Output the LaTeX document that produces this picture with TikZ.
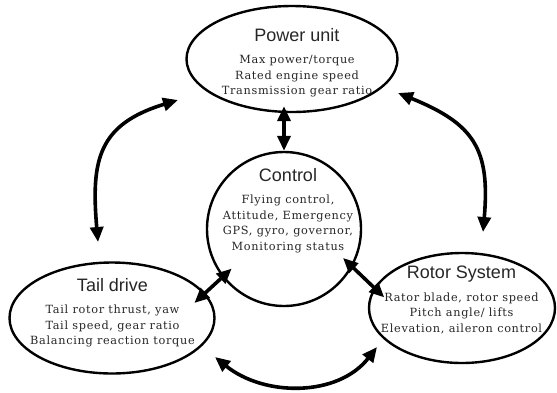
\documentclass[tikz,border=0pt]{standalone}
\usepackage{fontspec}
\setmainfont{DejaVu Serif}[LetterSpace=6]
\newfontfamily\headfont{Liberation Sans}
\usetikzlibrary{arrows.meta,shapes.geometric}
\newcommand{\unittitle}[1]{{\headfont\fontsize{18}{20}\selectfont #1}}

\begin{document}
\begin{tikzpicture} [
                x=1pt, y=1pt,
                unit/.style={ellipse,draw,line width=2.4pt,inner sep=0pt},
                hub/.style={circle,draw,line width=2.4pt,inner sep=0pt,minimum size=154pt},
                info/.style={align=center,anchor=north,inner sep=0pt,text=black!85,
                    font=\fontsize{11.3}{15.5}\selectfont},
                link edge/.style = {draw,line width=3.6pt,
                    {Triangle[length=15pt,width=13pt]}-{Triangle[length=15pt,width=13pt]}},
            ]
            \useasboundingbox (0,0) rectangle (557,-392);
            % blocks
            \node[unit,minimum width=211pt,minimum height=106pt] (power) at (292,-59) {};
            \node[hub] (control) at (284,-229) {};
            \node[unit,minimum width=205pt,minimum height=111pt] (tail) at (112,-318) {};
            \node[unit,minimum width=186pt,minimum height=110pt] (rotor) at (462,-308) {};
            % texts
            \node[info] (powertext) at (297,-28) {\unittitle{Power unit}\\[7pt]
                Max power/torque\\ Rated engine speed\\ Transmission gear ratio};
            \node[info] (controltext) at (288,-168) {\unittitle{Control}\\[7pt]
                Flying control,\\ Attitude, Emergency\\ GPS, gyro, governor,\\ Monitoring status};
            \node[info] (tailtext) at (112.5,-278) {\unittitle{Tail drive}\\[7pt]
                Tail rotor thrust, yaw\\ Tail speed, gear ratio\\ Balancing reaction torque};
            \node[info] (rotortext) at (461.5,-266) {\unittitle{Rotor System}\\[7pt]
                Rator blade, rotor speed\\ Pitch angle/ lifts\\ Elevation, aileron control};
            % arrows
            \coordinate (pl1) at (178,-100);
            \coordinate (pl2) at (98,-242);
            \coordinate (pr1) at (398,-93);
            \coordinate (pr2) at (483,-232);
            \coordinate (pb1) at (215,-357);
            \coordinate (pb2) at (377,-347);
            \path[link edge] (pl1) to[out=197,in=95,looseness=1.3] (pl2);
            \path[link edge] (pr1) to[out=338,in=85,looseness=1.3] (pr2);
            \path[link edge] (pb1) to[out=321,in=232] (pb2);
            \path[link edge,shorten <=-7pt] (control.north |- power.south) -- (control.north);
            \path[link edge,shorten <=-12.6pt,shorten >=-14.6pt] (control.218) -- (tail.15);
            \path[link edge,shorten <=-13pt,shorten >=-14pt] (control.331) -- (rotor.167);
        \end{tikzpicture}
\end{document}
